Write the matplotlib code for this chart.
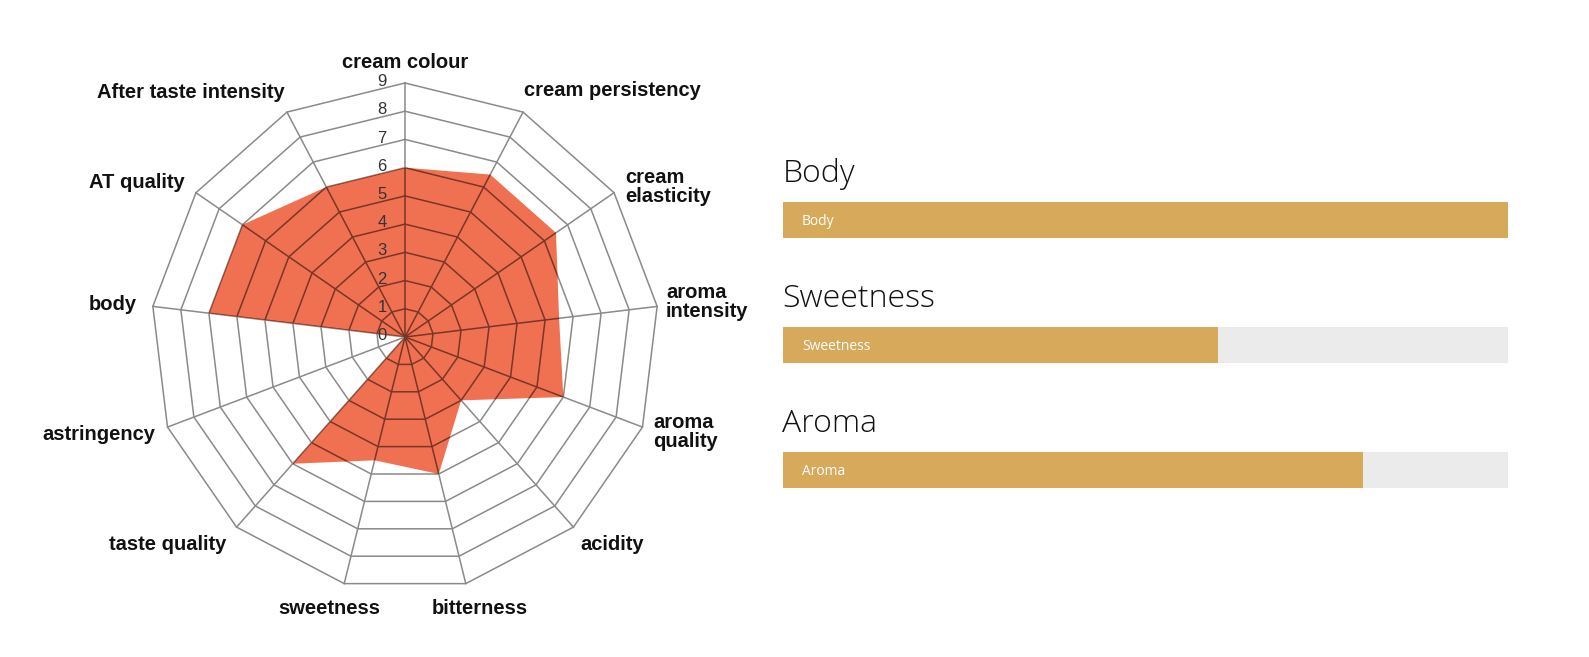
import numpy as np
import matplotlib
matplotlib.use("Agg")
import matplotlib.pyplot as plt
from matplotlib import font_manager
from matplotlib.patches import Polygon

# radar data (clockwise from the top)
attributes = ["cream colour", "cream persistency", "cream\nelasticity", "aroma\nintensity",
              "aroma\nquality", "acidity", "bitterness", "sweetness", "taste quality",
              "astringency", "body", "AT quality", "After taste intensity"]
scores = [6, 6.5, 6.5, 5.5, 6, 3, 5, 4.5, 6, 0, 7, 7, 6]
ring_levels = list(range(0, 10))

# progress bars on the right
bar_names = ["Body", "Sweetness", "Aroma"]
bar_percent = [100, 60, 80]

W, H = 1589, 657
names = {f.name for f in font_manager.fontManager.ttflist}
narrow = [f for f in ["Liberation Sans Narrow", "Liberation Sans", "DejaVu Sans"] if f in names]
head_font = [f for f in ["Open Sans", "Lato", "DejaVu Sans"] if f in names]

fig = plt.figure(figsize=(W / 100, H / 100), dpi=100)
fig.patch.set_facecolor("white")

def fx(x):
    return x / W

def fy(y):
    return 1 - y / H

# ---------------- radar ----------------
cx, cy, unit = 405, 337, 254 / 9
ax = fig.add_axes([0, 0, 800 / W, 1])
ax.set_xlim(-cx / unit, (800 - cx) / unit)
ax.set_ylim(-(H - cy) / unit, cy / unit)
ax.axis("off")

n = len(attributes)
theta = np.deg2rad(90 - np.arange(n) * 360 / n)
cos_t, sin_t = np.cos(theta), np.sin(theta)

def draw_grid(color, zorder, clip=None):
    lines = []
    for r in ring_levels[1:]:
        xs = np.append(r * cos_t, r * cos_t[0])
        ys = np.append(r * sin_t, r * sin_t[0])
        lines += ax.plot(xs, ys, color=color, lw=1.1, zorder=zorder)
    top = ring_levels[-1]
    for c, s in zip(cos_t, sin_t):
        lines += ax.plot([0, top * c], [0, top * s], color=color, lw=1.1, zorder=zorder)
    if clip is not None:
        for ln in lines:
            ln.set_clip_path(clip)

draw_grid("#8a8a8a", 1)
vals = np.array(scores)
poly = Polygon(np.column_stack([vals * cos_t, vals * sin_t]), closed=True,
               facecolor="#f07152", edgecolor="none", zorder=2)
ax.add_patch(poly)
draw_grid("#7a3526", 3, clip=poly)

for lv in ring_levels:
    ax.text(-23 / unit, lv + 0.05, str(lv), ha="center", va="center",
            fontsize=12, color="#333333", family=["Liberation Sans", "DejaVu Sans"], zorder=4)

label_pos = [(405, 63, "center"), (612, 90, "center"), (625, 187, "left"),
             (666, 302, "left"), (653, 432, "left"), (612, 545, "center"),
             (480, 609, "center"), (329, 609, "center"), (168, 545, "center"),
             (155, 434, "right"), (137, 305, "right"), (185, 183, "right"),
             (191, 92, "center")]
for name, (px, py, ha) in zip(attributes, label_pos):
    fig.text(fx(px), fy(py), name, ha=ha, va="center", multialignment="left",
             fontsize=14.5, fontweight="bold", family=narrow, linespacing=1.0,
             color="#111111")

# ---------------- progress bars ----------------
bx0, bw = 783, 725
bax = fig.add_axes([fx(bx0), 0, bw / W, 1])
bax.set_xlim(0, 100)
bax.set_ylim(H, 0)
bax.axis("off")

bar_h = 36
first_center = 220.3
gap = 125
for i, (name, pct) in enumerate(zip(bar_names, bar_percent)):
    yc = first_center + i * gap
    bax.barh(yc, 100, height=bar_h, color="#ebebeb", zorder=1)
    bax.barh(yc, pct, height=bar_h, color="#d6aa5a", zorder=2)
    bax.text(2.6, yc + 1, name, ha="left", va="center", fontsize=10,
             color="white", family=head_font, zorder=3)
    bax.text(-0.1, yc - 38.5, name, ha="left", va="baseline", fontsize=23,
             fontweight=300, color="#111111", family=head_font)

fig.savefig("out.png", dpi=100, facecolor="white")
